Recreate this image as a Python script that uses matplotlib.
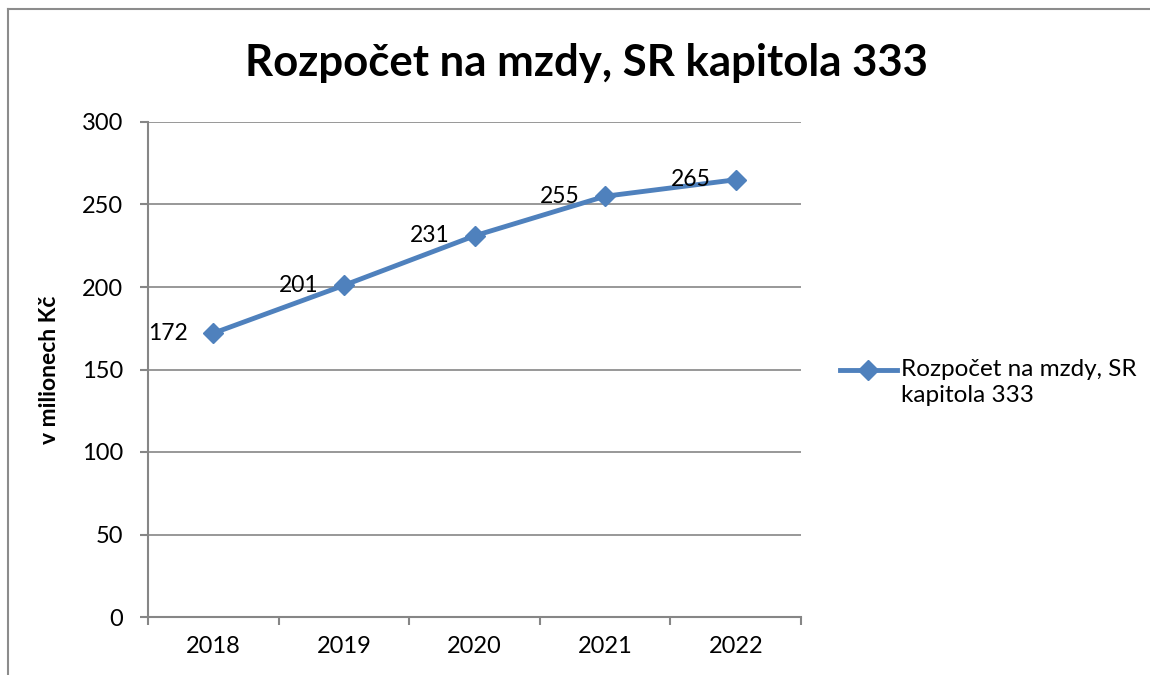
import matplotlib
matplotlib.use("Agg")
import matplotlib.pyplot as plt
from matplotlib.lines import Line2D
from matplotlib.ticker import FixedLocator, NullFormatter

years = ["2018", "2019", "2020", "2021", "2022"]
values = [172, 201, 231, 255, 265]
series_name = "Rozpočet na mzdy, SR\nkapitola 333"
title = "Rozpočet na mzdy, SR kapitola 333"
ylabel = "v milionech Kč"
yticks = [0, 50, 100, 150, 200, 250, 300]

BLUE = "#4F81BD"
GRID = "#868686"

plt.rcParams["font.family"] = ["Lato", "DejaVu Sans"]

W, H = 1150, 675
fig = plt.figure(figsize=(W / 100, H / 100), dpi=100)
fig.patch.set_facecolor("white")

# axes box in pixels: x 148..801, y 122..617
ax = fig.add_axes([148 / W, 1 - 617 / H, (801 - 148) / W, (617 - 122) / H])

x = list(range(len(years)))
ax.plot(x, values, color=BLUE, linewidth=3.5, marker="D", markersize=10,
        markerfacecolor=BLUE, markeredgecolor=BLUE)

for xi, v in zip(x, values):
    ax.annotate(str(v), (xi, v), xytext=(-18, 0), textcoords="offset points",
                ha="right", va="center", fontsize=16.5, color="black")

ax.set_xlim(-0.5, len(years) - 0.5)
ax.set_ylim(0, 300)
ax.set_yticks(yticks)
ax.set_xticks(x)
ax.set_xticklabels(years)
ax.xaxis.set_minor_locator(FixedLocator([i - 0.5 for i in range(len(years) + 1)]))
ax.xaxis.set_minor_formatter(NullFormatter())
ax.tick_params(axis="x", which="major", length=0, pad=14, labelsize=17)
ax.tick_params(axis="x", which="minor", length=6, width=1.5, color=GRID,
               direction="out")
ax.tick_params(axis="y", length=6, width=1.5, color=GRID, pad=12, labelsize=17)

ax.grid(True, axis="y", color=GRID, linewidth=1.2)
ax.set_axisbelow(True)
for s in ["top", "right"]:
    ax.spines[s].set_visible(False)
for s in ["left", "bottom"]:
    ax.spines[s].set_color(GRID)
    ax.spines[s].set_linewidth(1.5)

ax.set_ylabel(ylabel, fontsize=16.5, fontweight="bold")
ax.yaxis.set_label_coords((60 - 148) / (801 - 148), 0.5)

fig.text((245 + 928) / 2 / W, 1 - 63 / H, title, ha="center", va="center",
         fontsize=31.5, fontweight="bold")

# legend drawn by hand (handle aligned with first text line)
ly = 1 - 370 / H
fig.add_artist(Line2D([840 / W, 897 / W], [ly, ly], color=BLUE, linewidth=3.5,
                      transform=fig.transFigure))
fig.add_artist(Line2D([868 / W], [ly], color=BLUE, marker="D", markersize=10,
                      transform=fig.transFigure))
fig.text(901 / W, 1 - 359 / H, series_name, ha="left", va="top",
         fontsize=17.5, linespacing=1.3)

# chart frame (only left and top edges visible)
fig.add_artist(Line2D([8 / W, 8 / W], [0, 1 - 9 / H], color="#8c8c8c",
                      linewidth=1.5, transform=fig.transFigure))
fig.add_artist(Line2D([8 / W, 1], [1 - 9 / H, 1 - 9 / H], color="#8c8c8c",
                      linewidth=1.5, transform=fig.transFigure))

fig.savefig("out.png", dpi=100, facecolor="white")
